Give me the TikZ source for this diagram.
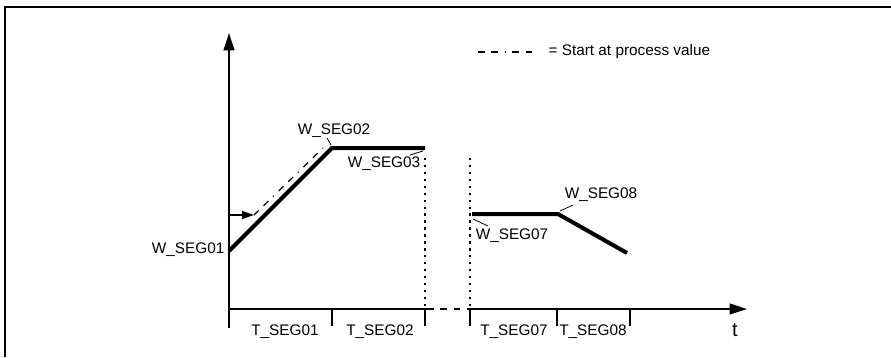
\documentclass[tikz,border=0pt]{standalone}
\usepackage{fontspec}
\setmainfont{Liberation Sans}
\usetikzlibrary{arrows.meta,positioning}

\begin{document}
\begin{tikzpicture}[
    x=0.75pt, y=-0.75pt,
    axis/.style={line width=1.6pt, -{Triangle[length=13pt,width=8pt]}},
    axisline/.style={line width=1.6pt},
    tickline/.style={line width=1.1pt},
    profile/.style={line width=3pt},
    startline/.style={line width=0.9pt, dash pattern=on 5pt off 5pt on 5pt off 5pt on 0.8pt off 5pt},
    sepline/.style={line width=1.2pt, dash pattern=on 1.8pt off 3.4pt},
    gapline/.style={line width=1.6pt, dash pattern=on 5pt off 5pt},
    shiftarrow/.style={line width=1.1pt, -{Triangle[length=9pt,width=6pt]}},
    leader/.style={line width=0.6pt},
    lbl/.style={font=\fontsize{11.5}{13}\selectfont, inner sep=1pt}
]
    \useasboundingbox (0,0) rectangle (891,357);
    % frame
    \draw[line width=2pt] (5,357) -- (5,7) -- (891,7);

    % axes
    \coordinate (origin) at (229,309);
    \coordinate (ybot) at (229,328);
    \coordinate (ytop) at (229,33);
    \coordinate (xbreakA) at (427,309);
    \coordinate (xbreakB) at (470,309);
    \coordinate (xend) at (747,309);
    \draw[axis] (ybot) -- (ytop);
    \draw[axisline] (origin) -- (xbreakA);
    \draw[gapline] (xbreakA) -- (xbreakB);
    \draw[axis] (xbreakB) -- (xend);

    % time ticks
    \foreach \tx in {332,425,470,557,630}
        \draw[tickline] (\tx,309) -- (\tx,326);

    % break lines
    \draw[sepline] (425,158) -- (425,309);
    \draw[sepline] (470,158) -- (470,309);

    % setpoint profile
    \coordinate (p1) at (229,251);
    \coordinate (p2) at (332,148);
    \coordinate (p3) at (425,148);
    \coordinate (p7) at (472,214);
    \coordinate (p8) at (558,214);
    \coordinate (p9) at (627,253);
    \draw[profile] (p1) -- (p2) -- (p3);
    \draw[profile] (p7) -- (p8) -- (p9);

    % start at process value
    \coordinate (pv) at (229,215);
    \coordinate (pvstart) at (254,215);
    \coordinate (pvend) at (323,148);
    \draw[shiftarrow] (pv) -- (pvstart);
    \draw[startline] (pvstart) -- (pvend);

    % labels
    \node[lbl, anchor=east] (w1) at (226,250) {W\_SEG01};
    \node[lbl] (w2) at (334,131) {W\_SEG02};
    \node[lbl] (w3) at (384,164) {W\_SEG03};
    \node[lbl] (w7) at (512,236) {W\_SEG07};
    \node[lbl] (w8) at (601,195) {W\_SEG08};

    \coordinate (w2a) at (327,138);
    \coordinate (w2b) at (331,145);
    \coordinate (w3a) at (410,155);
    \coordinate (w3b) at (423,151);
    \coordinate (w7a) at (473,219);
    \coordinate (w7b) at (488,226);
    \coordinate (w8a) at (560,211);
    \coordinate (w8b) at (573,205);
    \draw[leader] (w2a) -- (w2b);
    \draw[leader] (w3a) -- (w3b);
    \draw[leader] (w7a) -- (w7b);
    \draw[leader] (w8a) -- (w8b);

    \node[lbl] (t1) at (285,332) {T\_SEG01};
    \node[lbl] (t2) at (380,332) {T\_SEG02};
    \node[lbl] (t7) at (514,332) {T\_SEG07};
    \node[lbl] (t8) at (593,332) {T\_SEG08};
    \node[font=\fontsize{15}{17}\selectfont, inner sep=1pt] (tlbl) at (735,330) {t};

    % legend
    \coordinate (lega) at (478,52);
    \coordinate (legb) at (539,52);
    \draw[startline] (lega) -- (legb);
    \node[lbl, anchor=west] (legtxt) at (547,52) {= Start at process value};
\end{tikzpicture}
\end{document}
